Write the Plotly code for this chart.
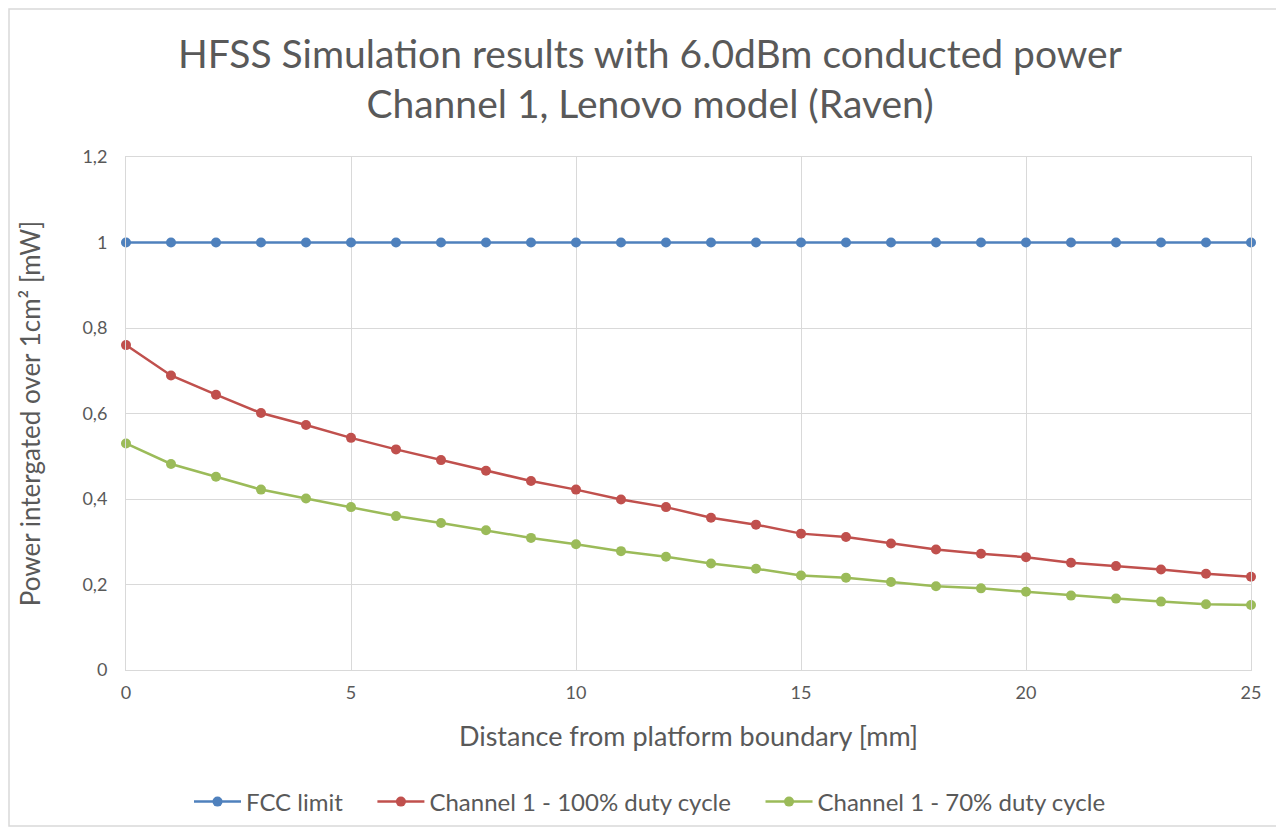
import plotly.graph_objects as go

distance_mm = list(range(0, 26))
fcc_limit = [1.0] * 26
ch1_100 = [0.760, 0.689, 0.644, 0.601, 0.573, 0.543, 0.516, 0.491, 0.466, 0.442,
           0.422, 0.399, 0.381, 0.356, 0.340, 0.319, 0.311, 0.296, 0.282, 0.272,
           0.264, 0.251, 0.243, 0.235, 0.225, 0.218]
ch1_70 = [0.530, 0.482, 0.452, 0.422, 0.401, 0.381, 0.360, 0.344, 0.327, 0.309,
          0.294, 0.278, 0.265, 0.249, 0.237, 0.221, 0.216, 0.206, 0.196, 0.191,
          0.183, 0.174, 0.167, 0.160, 0.154, 0.152]

series_names = ["FCC limit", "Channel 1 - 100% duty cycle", "Channel 1 - 70% duty cycle"]
series_colors = ["#4F81BD", "#C0504D", "#9BBB59"]
name_pad = ["\u00a0" * 4, "\u00a0" * 4, ""]

fig = go.Figure()
for name, pad, vals, col in zip(series_names, name_pad, [fcc_limit, ch1_100, ch1_70], series_colors):
    fig.add_trace(go.Scatter(
        x=distance_mm, y=vals, name=name + pad, mode="lines+markers",
        line=dict(color=col, width=2.5),
        marker=dict(color=col, size=10, symbol="circle"),
        cliponaxis=False,
    ))

font_family = "Lato, Open Sans, sans-serif"
grey = "#595959"

L, T, PW, PH = 118, 149, 1125, 513
fig.update_layout(
    width=1284, height=835,
    paper_bgcolor="white", plot_bgcolor="white",
    separators=", ",
    margin=dict(l=L, r=1284 - L - PW, t=T, b=835 - T - PH),
    title=dict(
        text="HFSS Simulation results with 6.0dBm conducted power<br>Channel 1, Lenovo model (Raven)",
        x=642 / 1284, xanchor="center", y=1 - 59.5 / 835, yanchor="middle",
        font=dict(family=font_family, size=39, color=grey),
    ),
    font=dict(family=font_family, color=grey),
    legend=dict(
        orientation="h", x=(642 - L) / PW, xanchor="center",
        y=-(794 - (T + PH)) / PH, yanchor="middle",
        font=dict(family=font_family, size=24, color=grey),
        bgcolor="rgba(0,0,0,0)",
        itemwidth=47,
    ),
    xaxis=dict(
        range=[0, 25], tickvals=[0, 5, 10, 15, 20, 25],
        showgrid=True, gridcolor="#D9D9D9", gridwidth=1,
        zeroline=False, showline=True, linecolor="#D9D9D9", mirror=True,
        ticks="", ticklabelstandoff=6, tickfont=dict(size=18, color=grey),
        title=dict(text="Distance from platform boundary [mm]",
                   font=dict(size=27, color=grey), standoff=25),
    ),
    yaxis=dict(
        range=[0, 1.2], tickvals=[0, 0.2, 0.4, 0.6, 0.8, 1.0, 1.2],
        showgrid=True, gridcolor="#D9D9D9", gridwidth=1,
        zeroline=False, showline=True, linecolor="#D9D9D9", mirror=True,
        ticks="", ticklabelstandoff=14, tickfont=dict(size=18, color=grey),
        title=dict(text="Power intergated over 1cm² [mW]",
                   font=dict(size=26, color=grey), standoff=34),
    ),
    shapes=[dict(type="rect", xref="paper", yref="paper",
                 x0=(1 - L) / PW, x1=(1269 - L) / PW,
                 y0=((T + PH) - 818) / PH, y1=((T + PH) - 1) / PH,
                 line=dict(color="#D9D9D9", width=1.5), fillcolor="rgba(0,0,0,0)",
                 layer="below")],
)

fig.write_html("out.html")
